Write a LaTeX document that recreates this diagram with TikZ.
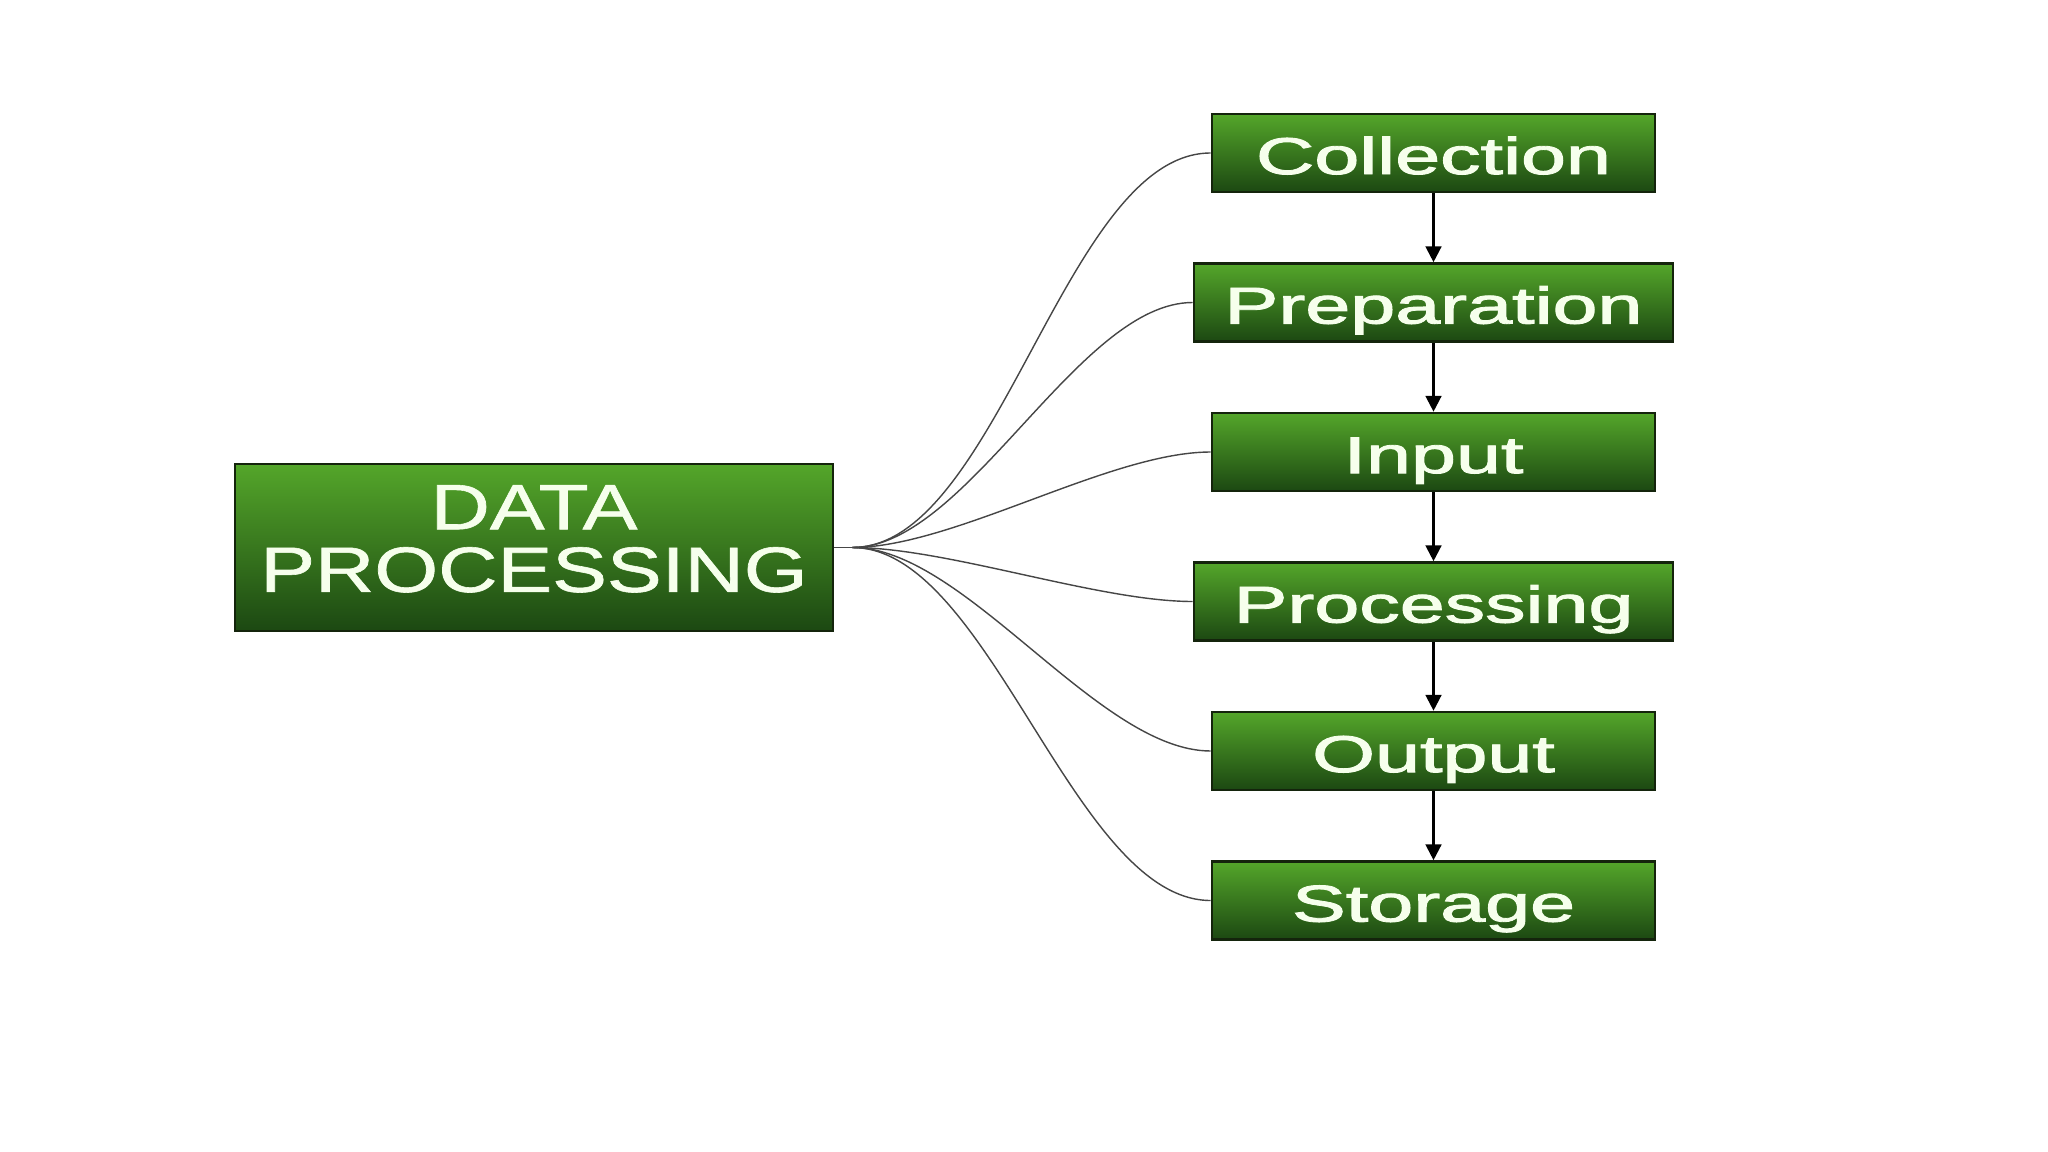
\documentclass[tikz,border=0pt]{standalone}
\usepackage{fontspec}
\setmainfont{Liberation Sans}
\newfontfamily\thicksans[FakeBold=1.6]{Liberation Sans}
\newfontfamily\midsans[FakeBold=0.9]{Liberation Sans}
\usetikzlibrary{arrows.meta}
\definecolor{gtop}{RGB}{84,166,42}
\definecolor{gbot}{RGB}{28,72,18}
\definecolor{gedge}{RGB}{20,36,12}
\definecolor{txt}{RGB}{246,255,236}
\definecolor{wire}{RGB}{70,70,70}
\tikzset{
  gbox/.style={draw=gedge, line width=1.5pt, top color=gtop, bottom color=gbot,
    text=txt, inner sep=0pt, minimum height=78*0.02cm},
  stagebox/.style={gbox, font=\thicksans\fontsize{29.5}{34}\selectfont,
    text height=24pt, text depth=0pt},
  flow/.style={line width=1.3pt, -{Triangle[length=9pt,width=9pt]}},
  fan/.style={draw=wire, line width=0.8pt},
}
\begin{document}
\begin{tikzpicture}[x=0.02cm,y=-0.02cm]
\useasboundingbox (0,0) rectangle (2048,1152);
\fill[white] (0,0) rectangle (2048,1152);
\node[gbox, minimum width=598*0.02cm, minimum height=167*0.02cm,
  font=\midsans\fontsize{36.5}{34}\selectfont] (main) at (534,547.5)
  {\scalebox{1.28}[1]{\begin{tabular}{@{}c@{}}DATA\\PROCESSING\end{tabular}}};
\node[stagebox, minimum width=443*0.02cm] (coll) at (1433.5,153) {\scalebox{1.56}[1]{Collection}};
\node[stagebox, minimum width=479*0.02cm] (prep) at (1433.5,302.5) {\scalebox{1.56}[1]{Preparation}};
\node[stagebox, minimum width=443*0.02cm] (inp) at (1433.5,452) {\scalebox{1.56}[1]{Input}};
\node[stagebox, minimum width=479*0.02cm] (proc) at (1433.5,601.5) {\scalebox{1.56}[1]{Processing}};
\node[stagebox, minimum width=443*0.02cm] (outp) at (1433.5,751) {\scalebox{1.56}[1]{Output}};
\node[stagebox, minimum width=443*0.02cm] (stor) at (1433.5,900.5) {\scalebox{1.56}[1]{Storage}};
\coordinate (hub) at ([xshift=18*0.02cm]main.east);
\draw[fan] (main.east) -- (hub);
\foreach \n in {coll,prep,inp,proc,outp,stor}
  \draw[fan] (hub) to[out=0,in=180,looseness=0.7] (\n.west);
\draw[flow] (coll) -- (prep);
\draw[flow] (prep) -- (inp);
\draw[flow] (inp) -- (proc);
\draw[flow] (proc) -- (outp);
\draw[flow] (outp) -- (stor);
\end{tikzpicture}
\end{document}
